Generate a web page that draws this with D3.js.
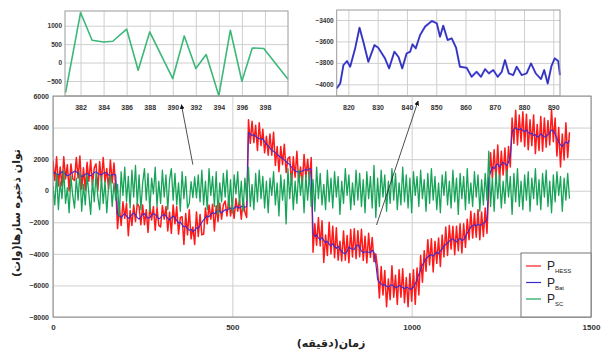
<!DOCTYPE html>
<html>
<head>
<meta charset="utf-8">
<script src="https://cdn.jsdelivr.net/npm/d3@7"></script>
<style>
body { margin: 0; background: #fff; }
svg { display: block; }
text { font-family: "Liberation Sans", Arial, sans-serif; }
</style>
</head>
<body>
<svg id="chart" width="603" height="358"></svg>
<script>
// sampling step of the main series (minutes)
const step = 5;

// P_HESS, one value every 5 minutes from 0 to 1440
const hessPower = [
  1900, 650, 2150, 300, 1500, 300, 2150, 750, 1650, 0, 1700, 750,
  650, 2100, 800, 2200, 100, 1450, 50, 1800, 600, 1950, 350, 1450,
  1700, 0, 1850, 600, 2100, 550, 1400, 100, 1950, 500, 1750, 200,
  -2400, -1000, -2200, -700, -1750, -800, -2850, -1250, -2200, -900, -1950, -800,
  -1000, -2150, -900, -2150, -1200, -2650, -950, -1850, -1000, -2500, -1050, -2200,
  -2300, -950, -1800, -1000, -2550, -1350, -2700, -900, -2100, -1000, -2750, -1700,
  -1650, -3400, -1450, -2800, -1200, -3050, -2300, -3400, -1350, -2900, -1500, -2800,
  -2750, -1100, -2100, -900, -1800, -850, -2550, -950, -1950, -800, -1800, -900,
  -650, -1600, -500, -1600, -900, -1750, -500, -1300, -600, -1800, -550, -1350,
  -1700, 4500, 3000, 4400, 3050, 4150, 2550, 4300, 2850, 3900, 2400, 3450,
  2250, 3600, 2250, 3700, 1600, 2800, 1200, 2800, 1650, 2950, 1150, 2050,
  2150, 400, 2150, 850, 2500, 550, 1500, 350, 2300, 850, 2000, 600,
  2100, -3900, -2100, -3450, -1700, -3500, -1900, -4550, -2800, -4100, -2000, -4000,
  -2250, -4250, -2350, -4400, -3200, -4450, -2550, -4400, -2830, -4560, -2460, -4200,
  -2410, -4300, -2530, -4180, -2440, -4420, -2880, -4580, -2700, -4220, -2960, -4500,
  -4000, -4900, -6800, -4800, -6600, -5050, -7350, -5600, -6900, -4750, -6750, -5350,
  -7200, -5000, -6750, -4950, -7100, -5500, -7350, -5250, -7000, -5000, -7200, -4900,
  -6600, -4100, -5800, -3800, -5100, -3100, -4700, -3050, -5150, -3200, -4600, -3000,
  -4800, -2800, -4200, -2300, -4100, -2200, -3700, -2250, -4050, -2250, -3800, -2100,
  -3950, -2100, -3600, -1800, -3100, -1300, -3000, -1450, -2950, -1200, -3100, -1350,
  -2900, -1100, -2700, 200, 2400, 800, 2600, 700, 2900, 600, 2500, 1000,
  2700, 700, 2800, 1500, 4600, 3000, 5100, 2900, 4800, 3100, 5000, 2800,
  4850, 2600, 4500, 2850, 4800, 2350, 4200, 2550, 4700, 2500, 4600, 2750,
  4450, 2900, 5150, 3100, 4600, 2200, 4000, 1500, 3600, 1950, 4300, 2100,
  3700
];

// P_Bat
const batPower = [
  1100, 1150, 1050, 1000, 1100, 1200, 1150, 1050, 950, 1000, 1100, 1150,
  1250, 1200, 1100, 1000, 900, 950, 1050, 1100, 1000, 950, 1050, 1150,
  1200, 1100, 1050, 1000, 1100, 1150, 1100, 1000, 950, 1000, 1050, 1000,
  -1500, -1600, -1700, -1550, -1450, -1600, -1750, -1650, -1500, -1400, -1550, -1700,
  -1800, -1650, -1500, -1450, -1600, -1750, -1700, -1550, -1450, -1500, -1650, -1800,
  -1700, -1550, -1500, -1600, -1750, -1850, -1700, -1600, -1700, -1900, -2050, -2000,
  -2150, -2300, -2250, -2400, -2500, -2450, -2600, -2500, -2350, -2400, -2200, -2000,
  -1850, -1700, -1600, -1650, -1500, -1400, -1450, -1350, -1250, -1300, -1400, -1300,
  -1200, -1250, -1150, -1100, -1200, -1100, -1000, -1050, -1100, -1000, -950, -1050,
  -1000, 3700, 3600, 3500, 3550, 3450, 3350, 3300, 3250, 3300, 3100, 2950,
  2850, 2700, 2550, 2500, 2400, 2300, 2200, 2100, 2050, 1950, 1850, 1750,
  1650, 1500, 1350, 1250, 1200, 1150, 1200, 1250, 1300, 1350, 1300, 1400,
  1350, -2700, -2900, -2800, -3000, -3100, -2950, -3150, -3300, -3200, -3400, -3500,
  -3350, -3550, -3650, -3500, -3700, -3850, -3950, -4000, -3830, -3560, -3660, -3700,
  -3710, -3500, -3430, -3580, -3840, -3920, -3880, -3880, -3900, -3920, -3760, -3900,
  -4600, -5600, -5800, -5900, -6000, -5950, -6050, -6100, -6000, -5950, -6050, -6150,
  -6100, -6000, -6050, -6150, -6200, -6100, -6150, -6250, -6200, -6100, -5900, -5600,
  -5300, -5000, -4700, -4500, -4300, -4200, -4100, -4050, -4150, -4000, -3900, -4000,
  -3800, -3700, -3500, -3400, -3300, -3200, -3100, -3050, -3150, -3250, -3100, -3000,
  -3150, -3100, -2900, -2700, -2500, -2300, -2200, -2150, -2250, -2100, -2200, -2150,
  -2050, -2000, -1800, 800, 1200, 1500, 1400, 1600, 1700, 1500, 1650, 1800,
  1700, 1600, 1800, 2200, 3700, 3900, 4000, 3900, 3850, 3950, 3800, 3750,
  3850, 3700, 3600, 3650, 3500, 3550, 3400, 3450, 3600, 3500, 3400, 3450,
  3550, 3700, 3850, 3800, 3600, 3300, 3100, 2900, 2800, 2950, 3100, 3000,
  3200
];

// P_SC
const scPower = [
  300, -900, 1100, -1200, 600, -500, 1300, -800, 200, -1400, 900, -300,
  -1100, 800, -600, 1200, -1300, 400, -900, 1000, -200, -1500, 700, -700,
  1100, -400, -1200, 900, -800, 600, -1400, 300, 1000, -1000, 500, -600,
  400, -1600, 1200, -300, 1500, -700, 900, -1100, 1300, -400, 1600, -900,
  1000, -1200, 500, 1400, -600, 1100, -1300, 800, -200, 1500, -1000, 600,
  -800, 1300, -400, 1000, -1200, 700, 1400, -600, 1100, -900, 500, -1300,
  1200, -500, 900, -1100, -800, 580, -435, 878, -454, 1000, -700, 1300,
  -900, 600, -1200, 1400, -300, 900, -1000, 1200, -1500, 500, -700, 1100,
  -400, 1300, -1100, 700, -1400, 1000, -200, 1200, -900, 600, -1300, 800,
  -600, 1500, -1000, 400, -1200, 1100, -700, 1300, -500, 900, -1100, 600,
  -1400, 800, -300, 1200, -900, 500, -1600, 1000, -600, 700, -2100, 1400,
  -500, 1100, -1200, 600, -800, 1300, -300, 900, -1400, 1000, -600, 1200,
  -1000, 700, -1300, 1500, -500, 1100, -900, 400, -1200, 1300, -700, 800,
  -1100, 1200, -400, 900, -1500, 600, -800, 1400, -300, 1000, -1200, 500,
  -900, 1300, -600, 1100, -1000, 700, -1400, 1200, -500, 900, -1100, 1600,
  -1700, 800, -1000, 1300, -400, 1000, -1300, 600, -800, 1400, -600, 1100,
  -1200, 500, -900, 1500, -700, 1000, -1100, 800, -1400, 1200, -300, 900,
  -1000, 1300, -500, 700, -1300, 1100, -800, 1400, -600, 900, -1200, 500,
  -1400, 1000, -300, 1200, -900, 600, -1100, 1300, -700, 800, -1500, 1100,
  -500, 900, -1200, 1400, -800, 500, -1000, 1200, -400, 1000, -1300, 700,
  -900, 1100, -600, 2500, -1000, 800, -1300, 1200, -500, 1000, -1100, 600,
  -800, 1300, -400, 900, -1500, 1100, -700, 1400, -1000, 600, -1200, 1000,
  -600, 1200, -1300, 800, -500, 1400, -900, 700, -1200, 1100, -400, 1300,
  -1000, 600, -1400, 1000, -700, 1200, -300, 900, -1300, 800, -600, 1100,
  -500
];

const xTicks = [0, 500, 1000, 1500];
const yTicks = [-8000, -6000, -4000, -2000, 0, 2000, 4000, 6000];

// zoom of P_SC around minute 390
const zoomScTime = [380.7, 382, 383, 384, 384.8, 386, 387, 388, 390, 391, 392, 392.9, 394, 395, 396, 396.9, 397.9, 400];
const zoomScValues = [-815, 1358, 606, 560, 579, 905, -209, 832, -435, 723, -163, 217, -900, 878, -508, 397, 380, -454];
const zoomScXTicks = [382, 384, 386, 388, 390, 392, 394, 396, 398];
const zoomScYTicks = [-500, 0, 500, 1000];

// zoom of P_Bat around minute 850
const zoomBatTime = [816, 817.2, 818.3, 819.5, 820.6, 822.3, 823.8, 825.1, 826.8, 828.9, 830.2, 832.5, 833.9, 835.7, 837.1, 838.4, 839.9, 841.1, 841.9, 843, 844.5, 846.2, 848.5, 850.2, 851.3, 852.4, 853.9, 855.3, 856.8, 858.1, 860.4, 862.1, 863.8, 865.3, 866.7, 868, 869.5, 871, 872.4, 873.5, 874.8, 876.3, 877.5, 879.2, 880.9, 882.4, 884, 885.8, 886.9, 888.1, 889.4, 890.5, 891.7, 892.3];
const zoomBatValues = [-4038, -3992, -3821, -3783, -3836, -3665, -3472, -3603, -3790, -3634, -3659, -3758, -3851, -3696, -3743, -3851, -3711, -3696, -3627, -3665, -3540, -3462, -3409, -3431, -3556, -3453, -3587, -3571, -3659, -3836, -3846, -3930, -3883, -3930, -3858, -3898, -3867, -3930, -3883, -3774, -3898, -3914, -3836, -3914, -3898, -3805, -3898, -3951, -3867, -3992, -3827, -3758, -3783, -3914];
const zoomBatXTicks = [820, 830, 840, 850, 860, 870, 880, 890];
const zoomBatYTicks = [-4000, -3800, -3600, -3400];

const seriesNames = ["HESS", "Bat", "SC"];
const seriesColors = ["#ff1a1a", "#3a2ccf", "#17a458"];

// arrows [minute, watt] in main-chart units: from the trace up to the zoom
const arrowFrom = [[390, 1650], [902, -2170]];
const arrowTo = [[358, 5450], [1018, 5680]];

const minutes = hessPower.map((d, i) => i * step);
const fmt = d3.format("d");

const svg = d3.select("#chart");
svg.append("rect").attr("width", 603).attr("height", 358).attr("fill", "#fff");

const main = {left: 53, right: 591, top: 96, bottom: 317};
const x = d3.scaleLinear().domain([0, 1500]).range([main.left, main.right]);
const y = d3.scaleLinear().domain([-8000, 6000]).range([main.bottom, main.top]);

function styleAxis(g, size) {
    g.select(".domain").remove();
    g.selectAll(".tick line").attr("stroke", "#cfcfcf").attr("stroke-width", 1);
    g.selectAll(".tick text")
        .attr("fill", "#333")
        .style("font-size", size + "px")
        .style("font-weight", "bold");
}

svg.append("g")
    .attr("transform", `translate(0,${main.bottom})`)
    .call(d3.axisBottom(x).tickValues(xTicks).tickFormat(fmt).tickSize(-(main.bottom - main.top)).tickPadding(7))
    .call(g => styleAxis(g, 8));

svg.append("g")
    .attr("transform", `translate(${main.left},0)`)
    .call(d3.axisLeft(y).tickValues(yTicks).tickFormat(fmt).tickSize(-(main.right - main.left)).tickPadding(4))
    .call(g => styleAxis(g, 7));

svg.append("clipPath").attr("id", "clipMain")
    .append("rect")
    .attr("x", main.left).attr("y", main.top)
    .attr("width", main.right - main.left).attr("height", main.bottom - main.top);

const line = d3.line().x((d, i) => x(minutes[i])).y(d => y(d));
const series = [hessPower, batPower, scPower];
const widths = [1.5, 1.1, 1.3];

svg.append("g").attr("clip-path", "url(#clipMain)")
    .selectAll("path")
    .data(series)
    .enter().append("path")
    .attr("d", d => line(d))
    .attr("fill", "none")
    .attr("stroke", (d, i) => seriesColors[i])
    .attr("stroke-width", (d, i) => widths[i])
    .attr("stroke-linejoin", "round");

svg.append("rect")
    .attr("x", main.left).attr("y", main.top)
    .attr("width", main.right - main.left).attr("height", main.bottom - main.top)
    .attr("fill", "none").attr("stroke", "#8a8a8a");

// arrows
svg.append("defs").append("marker")
    .attr("id", "arrowHead")
    .attr("viewBox", "0 0 10 10")
    .attr("refX", 9).attr("refY", 5)
    .attr("markerWidth", 6).attr("markerHeight", 6)
    .attr("orient", "auto")
    .append("path").attr("d", "M0,0 L10,5 L0,10 z").attr("fill", "#111");

svg.selectAll(".arrow")
    .data(arrowFrom)
    .enter().append("line")
    .attr("class", "arrow")
    .attr("x1", d => x(d[0])).attr("y1", d => y(d[1]))
    .attr("x2", (d, i) => x(arrowTo[i][0])).attr("y2", (d, i) => y(arrowTo[i][1]))
    .attr("stroke", "#222").attr("stroke-width", 0.8)
    .attr("marker-end", "url(#arrowHead)");

// inset zooms
function drawInset(box, xDomain, yDomain, xTickVals, yTickVals, times, values, color) {
    const g = svg.append("g");
    const ix = d3.scaleLinear().domain(xDomain).range([box.left, box.right]);
    const iy = d3.scaleLinear().domain(yDomain).range([box.bottom, box.top]);

    g.append("rect")
        .attr("x", box.left).attr("y", box.top)
        .attr("width", box.right - box.left).attr("height", box.bottom - box.top)
        .attr("fill", "#fff");

    g.append("g")
        .attr("transform", `translate(0,${box.bottom})`)
        .call(d3.axisBottom(ix).tickValues(xTickVals).tickFormat(fmt).tickSize(-(box.bottom - box.top)).tickPadding(9))
        .call(a => styleAxis(a, 7));

    g.append("g")
        .attr("transform", `translate(${box.left},0)`)
        .call(d3.axisLeft(iy).tickValues(yTickVals).tickFormat(fmt).tickSize(-(box.right - box.left)).tickPadding(3))
        .call(a => styleAxis(a, 6.5));

    const l = d3.line().x((d, i) => ix(times[i])).y(d => iy(d));
    color.forEach(c => {
        g.append("path")
            .attr("d", l(values))
            .attr("fill", "none")
            .attr("stroke", c[0])
            .attr("stroke-width", c[1])
            .attr("stroke-linejoin", "round");
    });

    g.append("rect")
        .attr("x", box.left).attr("y", box.top)
        .attr("width", box.right - box.left).attr("height", box.bottom - box.top)
        .attr("fill", "none").attr("stroke", "#9a9a9a");
}

drawInset({left: 65, right: 288, top: 11, bottom: 95.7}, [380.65, 400], [-900, 1400],
    zoomScXTicks, zoomScYTicks, zoomScTime, zoomScValues, [["#3cb878", 1.6]]);

drawInset({left: 336.7, right: 560, top: 10, bottom: 95.7}, [816, 892.3], [-4106, -3307],
    zoomBatXTicks, zoomBatYTicks, zoomBatTime, zoomBatValues, [["#5050f0", 2], ["#22227a", 0.7]]);

// legend
const legend = svg.append("g");
legend.append("rect")
    .attr("x", 521).attr("y", 253).attr("width", 70).attr("height", 64)
    .attr("fill", "#fff").attr("stroke", "#777");

const items = legend.selectAll(".item")
    .data(seriesNames)
    .enter().append("g")
    .attr("class", "item")
    .attr("transform", (d, i) => `translate(0,${266 + i * 16.5})`);

items.append("line")
    .attr("x1", 526).attr("x2", 541)
    .attr("stroke", (d, i) => seriesColors[i]).attr("stroke-width", 1.2);

const lt = items.append("text")
    .attr("x", 547).attr("y", 4)
    .attr("fill", "#222")
    .style("font-size", "12px");
lt.append("tspan").text("P");
lt.append("tspan").attr("dy", 3).style("font-size", "6px").text(d => d);

// axis titles
svg.append("text")
    .attr("transform", "translate(20,213) rotate(-90)")
    .attr("text-anchor", "middle")
    .attr("direction", "rtl")
    .style("font-family", "'DejaVu Sans', sans-serif")
    .style("font-size", "11px")
    .style("font-weight", "bold")
    .attr("fill", "#222")
    .text("توان ذخیره سازها(وات)");

svg.append("text")
    .attr("x", 331).attr("y", 347)
    .attr("text-anchor", "middle")
    .attr("direction", "rtl")
    .style("font-family", "'DejaVu Sans', sans-serif")
    .style("font-size", "11px")
    .style("font-weight", "bold")
    .attr("fill", "#222")
    .text("زمان(دقیقه)");
</script>
</body>
</html>
